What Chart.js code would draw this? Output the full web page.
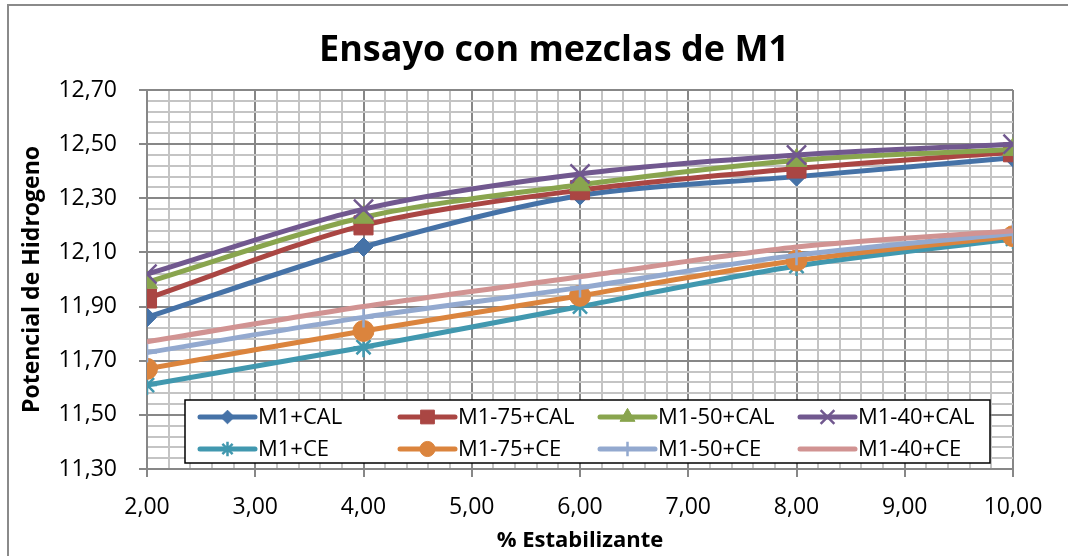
<!DOCTYPE html>
<html>
<head>
<meta charset="utf-8">
<script src="https://cdn.jsdelivr.net/npm/chart.js@4.4.1/dist/chart.umd.min.js"></script>
<style>
  html, body { margin: 0; padding: 0; background: #fff; }
  #wrap { width: 1068px; height: 556px; }
</style>
</head>
<body>
<div id="wrap"><canvas id="mezclasChart" width="1068" height="556"></canvas></div>
<script>
// % estabilizante
const estabilizante = [2, 4, 6, 8, 10];

// potencial de hidrogeno por mezcla
const m1Cal   = [11.86, 12.12, 12.31, 12.38, 12.45];
const m175Cal = [11.93, 12.20, 12.33, 12.41, 12.47];
const m150Cal = [11.99, 12.23, 12.35, 12.44, 12.48];
const m140Cal = [12.02, 12.26, 12.39, 12.46, 12.50];
const m1Ce    = [11.61, 11.75, 11.90, 12.05, 12.15];
const m175Ce  = [11.67, 11.81, 11.94, 12.07, 12.16];
const m150Ce  = [11.73, 11.86, 11.97, 12.09, 12.17];
const m140Ce  = [11.77, 11.90, 12.01, 12.12, 12.18];

const seriesNames = ['M1+CAL', 'M1-75+CAL', 'M1-50+CAL', 'M1-40+CAL',
                     'M1+CE', 'M1-75+CE', 'M1-50+CE', 'M1-40+CE'];
const seriesValues = [m1Cal, m175Cal, m150Cal, m140Cal, m1Ce, m175Ce, m150Ce, m140Ce];

// major ticks (labelled); minor grid goes in between
const xTicks = [2, 3, 4, 5, 6, 7, 8, 9, 10];
const yTicks = [11.30, 11.50, 11.70, 11.90, 12.10, 12.30, 12.50, 12.70];

const chartTitle = 'Ensayo con mezclas de M1';

const colors = ['#4572A7', '#AA4643', '#89A54E', '#71588F', '#4198AF', '#DB843D', '#93A9CF', '#D19392'];
const markers = ['rectRot', 'rect', 'triangle', 'crossRot', 'star', 'circle', 'cross', 'line'];
const markerSize = [9.5, 13.5, 12, 13.5, 10, 10.5, 10, 0];

const FONT = "'Open Sans', 'Liberation Sans', sans-serif";
const MAJOR = '#878787';
const MINOR = '#c4c4c4';

function isMajor(list, v) {
  return list.some(t => Math.abs(t - v) < 1e-6);
}
function fmt(v) {
  return v.toFixed(2).replace('.', ',');
}

const datasets = seriesNames.map((name, i) => ({
  label: name,
  data: estabilizante.map((x, j) => ({ x: x, y: seriesValues[i][j] })),
  borderColor: colors[i],
  backgroundColor: colors[i],
  borderWidth: 5,
  tension: 0.3,
  pointStyle: markers[i],
  pointRadius: markerSize[i],
  pointBackgroundColor: colors[i],
  pointBorderColor: colors[i],
  pointBorderWidth: (markers[i] === 'crossRot' || markers[i] === 'star' || markers[i] === 'cross') ? 2.5 : 1,
  order: seriesNames.length - i
}));

// white page, outer frame and the title (sits off-centre, over the plot)
const frame = {
  id: 'frame',
  beforeDraw(chart) {
    const ctx = chart.ctx;
    ctx.save();
    ctx.fillStyle = '#fff';
    ctx.fillRect(0, 0, chart.width, chart.height);
    ctx.strokeStyle = '#8a8a8a';
    ctx.lineWidth = 2;
    ctx.beginPath();
    ctx.moveTo(8, chart.height + 2);
    ctx.lineTo(8, 5);
    ctx.lineTo(chart.width + 2, 5);
    ctx.stroke();

    ctx.fillStyle = '#000';
    ctx.font = 'bold 36px ' + FONT;
    ctx.textAlign = 'center';
    ctx.textBaseline = 'alphabetic';
    const cx = (chart.chartArea.left + chart.chartArea.right) / 2 - 26;
    ctx.fillText(chartTitle, cx, chart.chartArea.top - 29);
    ctx.restore();
  }
};

// boxed legend sitting inside the plot, 4 columns x 2 rows
const insideLegend = {
  id: 'insideLegend',
  afterDraw(chart) {
    const ctx = chart.ctx;
    const area = chart.chartArea;
    const left = area.left + 38;
    const top = area.bottom - 69;
    const right = area.right - 23;
    const bottom = area.bottom - 6;
    ctx.save();
    ctx.fillStyle = '#fff';
    ctx.fillRect(left, top, right - left, bottom - top);
    ctx.strokeStyle = '#000';
    ctx.lineWidth = 1.5;
    ctx.strokeRect(left, top, right - left, bottom - top);

    ctx.font = '22px ' + FONT;
    ctx.textBaseline = 'middle';
    ctx.textAlign = 'left';
    chart.data.datasets.forEach((ds, i) => {
      const col = i % 4;
      const row = Math.floor(i / 4);
      const x0 = left + 15 + col * 200;
      const y0 = top + 17 + row * 32;
      ctx.strokeStyle = ds.borderColor;
      ctx.lineWidth = 5;
      ctx.lineCap = 'round';
      ctx.beginPath();
      ctx.moveTo(x0, y0);
      ctx.lineTo(x0 + 55, y0);
      ctx.stroke();
      if (ds.pointRadius > 0 && Chart.helpers && Chart.helpers.drawPoint) {
        ctx.fillStyle = ds.pointBackgroundColor;
        ctx.strokeStyle = ds.pointBorderColor;
        ctx.lineWidth = ds.pointBorderWidth;
        ctx.lineCap = 'butt';
        Chart.helpers.drawPoint(ctx, {
          pointStyle: ds.pointStyle,
          radius: ds.pointRadius * 0.72,
          rotation: 0,
          borderWidth: ds.pointBorderWidth
        }, x0 + 27.5, y0);
      }
      ctx.fillStyle = '#000';
      ctx.fillText(ds.label, x0 + 58, y0 + 1);
    });
    ctx.restore();
  }
};

const ctx = document.getElementById('mezclasChart').getContext('2d');

const mezclasChart = new Chart(ctx, {
  type: 'line',
  data: { datasets: datasets },
  plugins: [frame, insideLegend],
  options: {
    responsive: false,
    animation: false,
    layout: { padding: { left: 8, right: 55, top: 90, bottom: 0 } },
    plugins: {
      legend: { display: false },
      tooltip: { enabled: false },
      title: { display: false }
    },
    scales: {
      x: {
        type: 'linear',
        min: 2,
        max: 10,
        ticks: {
          stepSize: 0.2,
          autoSkip: false,
          maxRotation: 0,
          padding: 17,
          color: '#000',
          font: { family: FONT, size: 23 },
          callback: v => isMajor(xTicks, v) ? fmt(v) : ''
        },
        grid: {
          color: c => isMajor(xTicks, c.tick.value) ? MAJOR : MINOR,
          lineWidth: 2,
          tickLength: 8,
          tickColor: c => isMajor(xTicks, c.tick.value) ? MAJOR : 'rgba(0,0,0,0)'
        },
        border: { color: MAJOR, width: 2 },
        title: {
          display: true,
          text: '% Estabilizante',
          color: '#000',
          font: { family: FONT, size: 22, weight: 'bold' },
          padding: { top: 0, bottom: 2 }
        },
        afterFit: s => { s.height = 87; }
      },
      y: {
        min: 11.3,
        max: 12.7,
        ticks: {
          stepSize: 0.04,
          autoSkip: false,
          padding: 22,
          color: '#000',
          font: { family: FONT, size: 23 },
          callback: v => isMajor(yTicks, v) ? fmt(v) : ''
        },
        grid: {
          color: c => isMajor(yTicks, c.tick.value) ? MAJOR : MINOR,
          lineWidth: 2,
          tickLength: 8,
          tickColor: c => isMajor(yTicks, c.tick.value) ? MAJOR : 'rgba(0,0,0,0)'
        },
        border: { color: MAJOR, width: 2 },
        title: {
          display: true,
          text: 'Potencial de Hidrogeno',
          color: '#000',
          font: { family: FONT, size: 23, weight: 'bold' },
          padding: { top: 11, bottom: 0 }
        },
        afterFit: s => { s.width = 139; }
      }
    }
  }
});
</script>
</body>
</html>
